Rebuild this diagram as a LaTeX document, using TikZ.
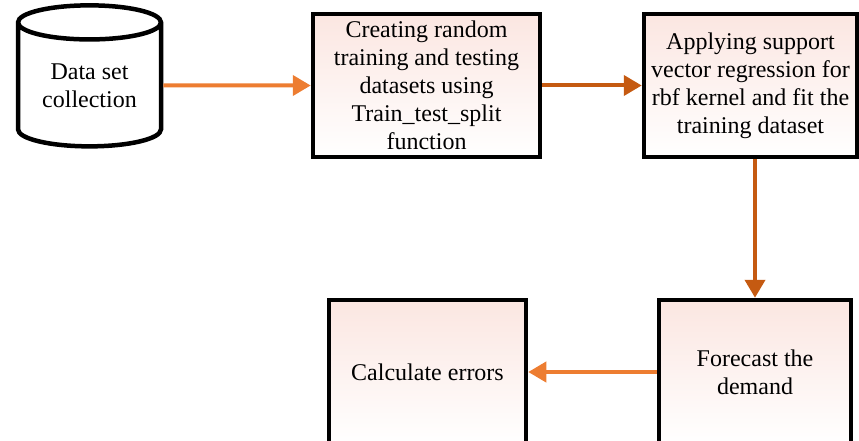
\documentclass[tikz,border=0pt]{standalone}
\usepackage{fontspec}
\setmainfont{Liberation Serif}
\usetikzlibrary{positioning}
\usetikzlibrary{arrows.meta}
\usetikzlibrary{shapes.geometric}
\definecolor{lightorange}{RGB}{237,125,49}
\definecolor{darkorange}{RGB}{197,90,17}
\definecolor{boxpink}{RGB}{251,230,225}
\tikzset{
  stage/.style={draw=black,line width=4.5pt,top color=boxpink,bottom color=white,
    align=center,inner sep=0pt,font=\fontsize{24}{28}\selectfont},
  flow/.style={line width=4pt,-{Triangle[length=18pt,width=20pt]}}
}

\begin{document}
\begin{tikzpicture}[x=1pt,y=-1pt]
\useasboundingbox (0,0) rectangle (859,441);
% cylindre
\node[cylinder,shape border rotate=90,draw=black,line width=4.5pt,aspect=0.36,
  minimum width=143pt,minimum height=141pt,inner sep=0pt,align=center,
  font=\fontsize{24}{28}\selectfont] (data) at (89.5,85.5) {Data set\\collection};
% boites
\node[stage,minimum width=227pt,minimum height=143pt] (split) at (426.5,85.5)
  {Creating random\\training and testing\\datasets using\\Train\_test\_split\\function};
\node[stage,minimum width=213pt,minimum height=143pt] (svr) at (750.5,85.5)
  {Applying support\\vector regression for\\rbf kernel and fit the\\training dataset};
\node[stage,minimum width=192pt,minimum height=144pt] (forecast) at (755,372)
  {Forecast the\\demand};
\node[stage,minimum width=197pt,minimum height=144pt] (errors) at (427.5,372)
  {Calculate errors};
% fleches
\draw[flow,lightorange] (data) -- (split);
\draw[flow,darkorange] (split) -- (svr);
\draw[flow,darkorange] (forecast.north |- svr.south) -- (forecast.north);
\draw[flow,lightorange] (forecast) -- (errors);
\end{tikzpicture}
\end{document}
